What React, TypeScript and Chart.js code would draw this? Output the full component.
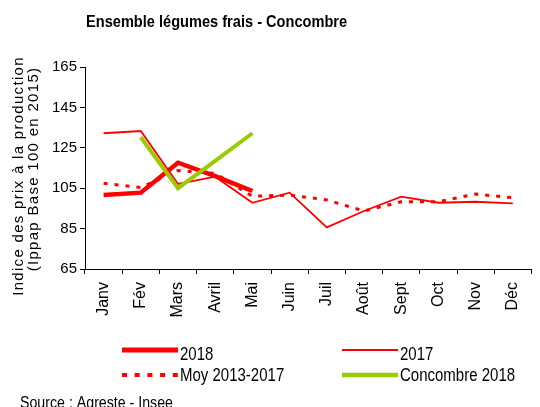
import React, { useEffect, useRef } from 'react';
import { Chart, registerables } from 'chart.js';

Chart.register(...registerables);

const TITLE = 'Ensemble légumes frais - Concombre';
const Y_TITLE = ['Indice des prix à la production', '(Ippap Base 100 en 2015)'];
const SOURCE = 'Source : Agreste - Insee';

const months = ['Janv', 'Fév', 'Mars', 'Avril', 'Mai', 'Juin', 'Juil', 'Août', 'Sept', 'Oct', 'Nov', 'Déc'];
const serie2018 = [101.6, 102.8, 117.6, 111.0, 103.6, null, null, null, null, null, null, null];
const serie2017 = [132.2, 133.3, 107.1, 110.7, 97.8, 102.8, 85.6, 93.7, 100.8, 97.8, 98.3, 97.5];
const moy20132017 = [107.4, 105.3, 113.7, 112.3, 101.0, 101.6, 99.2, 93.7, 98.3, 98.3, 102.1, 100.3];
const concombre2018 = [null, 130.2, 105.0, 118.5, 132.2, null, null, null, null, null, null, null];

const Y_MIN = 65;
const Y_MAX = 165;
const Y_STEP = 20;

const SANS = '"Liberation Sans", Arial, sans-serif';
const RED = '#ff0000';
const GREEN = '#99cc00';

function stretchedText(
  ctx: CanvasRenderingContext2D,
  text: string,
  x: number,
  baseline: number,
  font: string,
  sy: number
) {
  ctx.save();
  ctx.translate(x, baseline);
  ctx.scale(1, sy);
  ctx.font = font;
  ctx.textAlign = 'left';
  ctx.textBaseline = 'alphabetic';
  ctx.fillText(text, 0, 0);
  ctx.restore();
}

export default function App() {
  const ref = useRef<HTMLCanvasElement>(null);

  useEffect(() => {
    const canvas = ref.current;
    if (!canvas) return;

    const decor = {
      id: 'decor',
      afterDraw(chart: any) {
        const ctx = chart.ctx as CanvasRenderingContext2D;
        ctx.save();
        ctx.fillStyle = '#000';
        // title
        stretchedText(ctx, TITLE, 86, 27, `bold 14.6px ${SANS}`, 1.1);

        // y axis title
        (ctx as any).letterSpacing = '1.3px';
        ctx.font = `15px ${SANS}`;
        ctx.textAlign = 'center';
        ctx.textBaseline = 'middle';
        const yt = [
          { x: 19, y: 176 },
          { x: 34, y: 169 },
        ];
        Y_TITLE.forEach((t, i) => {
          ctx.save();
          ctx.translate(yt[i].x, yt[i].y);
          ctx.rotate(-Math.PI / 2);
          ctx.fillText(t, 0, 0);
          ctx.restore();
        });
        (ctx as any).letterSpacing = '0px';

        // legend
        const ds = chart.data.datasets;
        const slots = [
          { idx: 1, x: 122, y: 350, tb: 360 },
          { idx: 2, x: 342, y: 350, tb: 360 },
          { idx: 3, x: 122, y: 375, tb: 381 },
          { idx: 0, x: 342, y: 375, tb: 381 },
        ];
        slots.forEach((s) => {
          const d = ds[s.idx];
          ctx.save();
          ctx.strokeStyle = d.borderColor;
          ctx.lineWidth = d.legendWidth || d.borderWidth;
          ctx.setLineDash(d.legendDash || []);
          ctx.lineCap = 'butt';
          ctx.beginPath();
          ctx.moveTo(s.x, s.y);
          ctx.lineTo(s.x + 56, s.y);
          ctx.stroke();
          ctx.restore();
          ctx.fillStyle = '#000';
          stretchedText(ctx, d.label, s.x + 58, s.tb, `15px ${SANS}`, 1.18);
        });

        // source
        stretchedText(ctx, SOURCE, 20, 408, `14.2px ${SANS}`, 1.2);
        ctx.restore();
      },
    };

    const chart = new Chart(canvas, {
      type: 'line',
      data: {
        labels: months,
        datasets: [
          {
            label: 'Concombre 2018',
            data: concombre2018,
            borderColor: GREEN,
            backgroundColor: GREEN,
            borderWidth: 4,
            pointRadius: 0,
            tension: 0,
            legendWidth: 4.5,
          } as any,
          {
            label: '2018',
            data: serie2018,
            borderColor: RED,
            backgroundColor: RED,
            borderWidth: 4.5,
            pointRadius: 0,
            tension: 0,
            legendWidth: 5,
          } as any,
          {
            label: '2017',
            data: serie2017,
            borderColor: RED,
            backgroundColor: RED,
            borderWidth: 1.8,
            pointRadius: 0,
            tension: 0,
            legendWidth: 2,
          } as any,
          {
            label: 'Moy 2013-2017',
            data: moy20132017,
            borderColor: RED,
            backgroundColor: RED,
            borderWidth: 3,
            borderDash: [4, 7],
            pointRadius: 0,
            tension: 0,
            legendWidth: 4,
            legendDash: [5, 7.7],
          } as any,
        ],
      },
      options: {
        animation: false,
        responsive: true,
        maintainAspectRatio: false,
        layout: { padding: { top: 67, left: 0, right: 0, bottom: 0 } },
        plugins: {
          legend: { display: false },
          tooltip: { enabled: false },
          title: { display: false },
        },
        scales: {
          x: {
            type: 'category',
            offset: true,
            afterFit: (scale: any) => {
              scale.height = 407 - 269;
            },
            grid: {
              display: true,
              offset: true,
              drawOnChartArea: false,
              drawTicks: true,
              tickLength: 5,
              color: '#000',
            },
            border: { display: true, color: '#000', width: 1 },
            ticks: {
              autoSkip: false,
              minRotation: 90,
              maxRotation: 90,
              padding: 8,
              color: '#000',
              font: { family: SANS, size: 16 },
            },
          },
          y: {
            min: Y_MIN,
            max: Y_MAX,
            afterFit: (scale: any) => {
              scale.width = 85;
            },
            grid: {
              display: true,
              drawOnChartArea: false,
              drawTicks: true,
              tickLength: 5,
              color: '#000',
            },
            border: { display: true, color: '#000', width: 1 },
            ticks: {
              stepSize: Y_STEP,
              padding: 3,
              color: '#000',
              font: { family: SANS, size: 15 },
            },
          },
        },
      } as any,
      plugins: [decor],
    });

    return () => chart.destroy();
  }, []);

  return (
    <div style={{ position: 'absolute', left: 0, top: 0, width: 540, height: 407 }}>
      <canvas ref={ref} />
    </div>
  );
}
